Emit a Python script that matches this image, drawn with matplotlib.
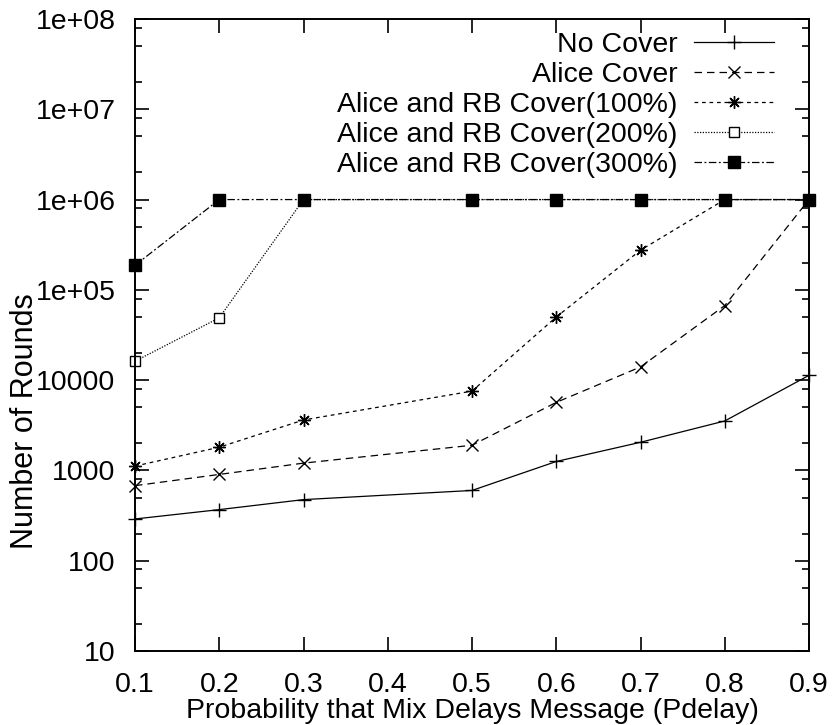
import matplotlib
matplotlib.use("Agg")
import matplotlib.pyplot as plt
from matplotlib.ticker import FixedLocator, LogLocator, NullFormatter

plt.rcParams["font.family"] = ["Liberation Sans", "DejaVu Sans"]

# data (log y)
pdelay = [0.1, 0.2, 0.3, 0.5, 0.6, 0.7, 0.8, 0.9]
no_cover = [290, 368, 475, 600, 1256, 2050, 3530, 11300]
alice_cover = [678, 903, 1205, 1900, 5670, 14000, 67000, 1000000]
rb_100 = [1117, 1808, 3620, 7560, 50000, 275000, 1000000, 1000000]
rb_200 = [16200, 49000, 1000000, 1000000, 1000000, 1000000, 1000000, 1000000]
rb_300 = [187000, 1000000, 1000000, 1000000, 1000000, 1000000, 1000000, 1000000]

x_ticks = [0.1, 0.2, 0.3, 0.4, 0.5, 0.6, 0.7, 0.8, 0.9]
y_ticks = [10, 100, 1000, 10000, 1e5, 1e6, 1e7, 1e8]
y_tick_labels = ["10", "100", "1000", "10000", "1e+05", "1e+06", "1e+07", "1e+08"]

FS = 20.5

fig = plt.figure(figsize=(8.36, 7.25), dpi=100)
ax = fig.add_axes([135 / 836, 74 / 725, 674 / 836, 632 / 725])

common = dict(color="black", lw=0.9, clip_on=False, markeredgewidth=1.0)
ax.plot(pdelay, no_cover, linestyle="-", marker="+", ms=10, label="No Cover", **common)
ax.plot(pdelay, alice_cover, linestyle=(0, (6, 4)), marker="x", ms=8, label="Alice Cover", **common)
ax.plot(pdelay, rb_100, linestyle=(0, (3, 3)), marker=(8, 2, 0), ms=9,
        label="Alice and RB Cover(100%)", **common)
ax.plot(pdelay, rb_200, linestyle=(0, (1, 1.2)), marker="s", ms=7, markerfacecolor="white",
        label="Alice and RB Cover(200%)", **common)
ax.plot(pdelay, rb_300, linestyle=(0, (6, 2, 1.5, 2)), marker="s", ms=8.5,
        label="Alice and RB Cover(300%)", **common)

ax.set_yscale("log")
ax.set_xlim(0.1, 0.9)
ax.set_ylim(10, 1e8)

ax.xaxis.set_major_locator(FixedLocator(x_ticks))
ax.set_xticklabels([f"{v:.1f}" for v in x_ticks])
ax.yaxis.set_major_locator(FixedLocator(y_ticks))
ax.set_yticklabels(y_tick_labels)
ax.yaxis.set_minor_locator(LogLocator(base=10, subs=[2, 5, 8]))
ax.yaxis.set_minor_formatter(NullFormatter())

ax.tick_params(which="both", direction="in", top=True, right=True, width=1.2, labelsize=FS)
ax.tick_params(which="major", length=10)
ax.tick_params(which="minor", length=5)
ax.tick_params(axis="x", pad=15)
ax.tick_params(axis="y", pad=14)
for sp in ax.spines.values():
    sp.set_linewidth(1.4)

ax.set_xlabel("Probability that Mix Delays Message (Pdelay)", fontsize=FS, labelpad=0)
ax.set_ylabel("Number of Rounds", fontsize=22)
ax.yaxis.set_label_coords(-0.141, 0.364)

ax.legend(loc="upper right", bbox_to_anchor=(0.948, 0.979), frameon=False, markerfirst=False,
          fontsize=FS, handlelength=2.8, handletextpad=0.58, labelspacing=0.14,
          borderpad=0, borderaxespad=0, numpoints=1)

fig.savefig("out.png", dpi=100)
